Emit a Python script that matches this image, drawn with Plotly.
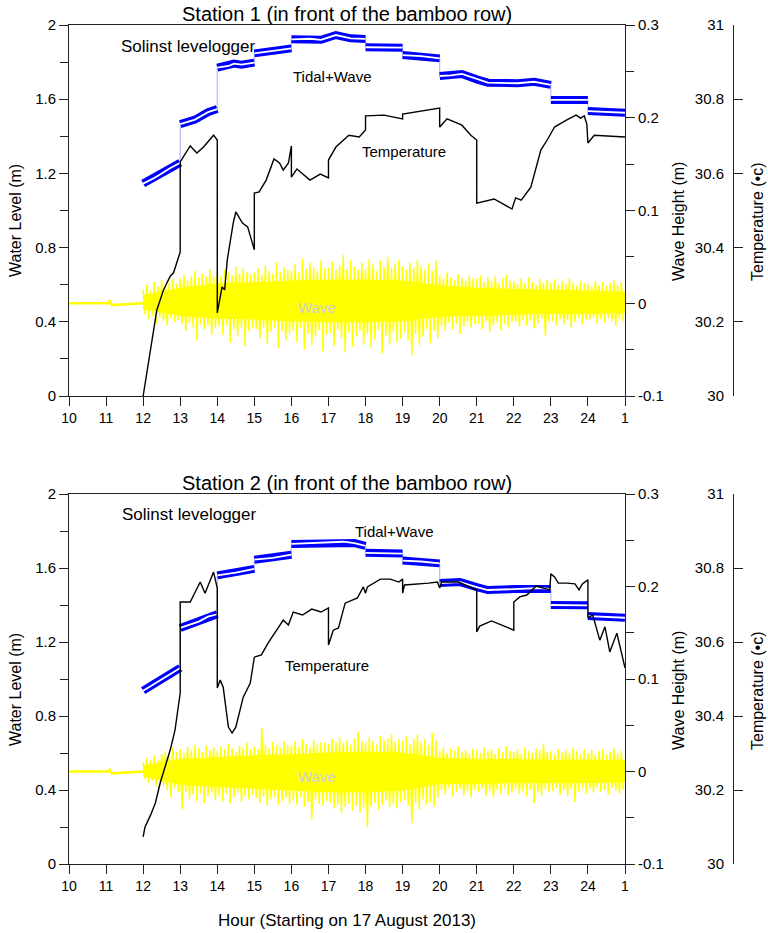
import plotly.graph_objects as go

# ---------------- DATA ----------------
HOUR_TICKS = list(range(10, 26))
HOUR_LABELS = [str(h) for h in range(10, 25)] + ["1"]
LEVEL_TICKS = [0, 0.4, 0.8, 1.2, 1.6, 2]
LEVEL_LABELS = ["0", "0.4", "0.8", "1.2", "1.6", "2"]
WAVE_TICKS = [-0.1, 0, 0.1, 0.2, 0.3]
WAVE_LABELS = ["-0.1", "0", "0.1", "0.2", "0.3"]
TEMP_TICKS = [30, 30.2, 30.4, 30.6, 30.8, 31]
TEMP_LABELS = ["30", "30.2", "30.4", "30.6", "30.8", "31"]

# Tidal+Wave (water level, m) - segments of the logger record
p1_tide_hours = [[12, 12.3, 12.5, 12.7, 13], [13, 13.4, 13.75, 14], [14, 14.3, 14.45, 14.65, 15],
                 [15, 15.5, 16], [16, 16.5, 16.8, 17.2, 17.6, 18], [18, 18.5, 19], [19, 19.5, 20],
                 [20, 20.3, 20.6, 21, 21.3, 22.1, 22.55, 23], [23, 23.5, 24], [24, 24.5, 25]]
p1_tide_level = [[1.145, 1.175, 1.20, 1.225, 1.257], [1.466, 1.49, 1.53, 1.547], [1.770, 1.779, 1.792, 1.786, 1.797],
                 [1.847, 1.86, 1.874], [1.923, 1.926, 1.92, 1.946, 1.928, 1.925], [1.88, 1.878, 1.878], [1.838, 1.832, 1.82],
                 [1.725, 1.728, 1.736, 1.707, 1.689, 1.686, 1.694, 1.677], [1.596, 1.597, 1.596], [1.536, 1.532, 1.527]]

p2_tide_hours = [[12, 12.5, 13], [13, 13.5, 13.75, 14], [14, 14.5, 15], [15, 15.5, 16],
                 [16, 16.5, 17, 17.4, 17.7, 18], [18, 19], [19, 19.5, 20],
                 [20, 20.55, 21, 21.3, 22, 22.7, 23], [23, 24], [24, 25]]
p2_tide_level = [[0.937, 1.0, 1.06], [1.276, 1.31, 1.337, 1.350], [1.56, 1.575, 1.595], [1.645, 1.655, 1.672],
                 [1.73, 1.733, 1.738, 1.742, 1.735, 1.72], [1.682, 1.678], [1.64, 1.635, 1.625],
                 [1.519, 1.524, 1.497, 1.481, 1.486, 1.492, 1.486], [1.40, 1.398], [1.34, 1.331]]

# Temperature (deg C)
p1_temp_hours = [12.0, 12.37, 12.55, 12.73, 12.82, 13.0, 13.0, 13.27, 13.45, 13.63, 13.9, 14.0, 14.0, 14.13, 14.2,
                 14.27, 14.43, 14.5, 14.68, 14.82, 15.0, 15.0, 15.13, 15.32, 15.53, 15.68, 15.78, 15.92, 16.0,
                 16.0, 16.15, 16.5, 16.78, 17.0, 17.0, 17.2, 17.55, 17.83, 18.0, 18.0, 18.5, 19.0, 19.0, 20.0,
                 20.0, 20.2, 20.6, 20.84, 21.0, 21.0, 21.47, 21.95, 22.05, 22.2, 22.46, 22.73, 22.9, 23.1,
                 23.43, 23.68, 23.8, 23.9, 23.97, 24.0, 24.17, 24.62, 25.0]
p1_temp_vals = [30.000, 30.232, 30.286, 30.323, 30.332, 30.388, 30.631, 30.674, 30.655, 30.671, 30.703, 30.690,
                30.224, 30.294, 30.286, 30.367, 30.466, 30.496, 30.466, 30.456, 30.394, 30.547, 30.550, 30.582,
                30.639, 30.628, 30.609, 30.628, 30.674, 30.590, 30.612, 30.582, 30.598, 30.588, 30.636, 30.671,
                30.703, 30.698, 30.717, 30.755, 30.757, 30.747, 30.760, 30.776, 30.725, 30.747, 30.730, 30.703,
                30.690, 30.520, 30.531, 30.504, 30.534, 30.528, 30.563, 30.663, 30.690, 30.725, 30.744, 30.757,
                30.749, 30.755, 30.733, 30.682, 30.703, 30.701, 30.698]

p2_temp_hours = [12.0, 12.05, 12.2, 12.33, 12.46, 12.6, 12.73, 12.86, 13.0, 13.0, 13.27, 13.54, 13.67, 13.9, 14.0,
                 14.0, 14.08, 14.16, 14.3, 14.4, 14.5, 14.7, 14.89, 15.0, 15.19, 15.37, 15.6, 15.78, 15.92, 16.05,
                 16.3, 16.55, 16.8, 17.0, 17.0, 17.13, 17.27, 17.45, 17.78, 17.94, 18.0, 18.05, 18.4, 18.67, 18.9,
                 19.0, 19.0, 19.05, 19.7, 19.94, 20.0, 20.05, 20.5, 21.0, 21.0, 21.08, 21.4, 22.0, 22.0, 22.16,
                 22.35, 22.6, 22.97, 23.0, 23.1, 23.2, 23.43, 23.65, 23.76, 23.85, 24.0, 24.0, 24.13, 24.2, 24.32,
                 24.46, 24.59, 24.78, 24.92, 25.0]
p2_temp_vals = [30.073, 30.100, 30.132, 30.165, 30.219, 30.262, 30.308, 30.362, 30.462, 30.708, 30.708, 30.762,
                30.732, 30.789, 30.746, 30.476, 30.497, 30.478, 30.370, 30.354, 30.370, 30.451, 30.489, 30.559,
                30.565, 30.597, 30.632, 30.659, 30.646, 30.681, 30.673, 30.689, 30.681, 30.692, 30.592, 30.632,
                30.638, 30.705, 30.719, 30.749, 30.732, 30.749, 30.770, 30.770, 30.762, 30.770, 30.732, 30.754,
                30.759, 30.762, 30.746, 30.762, 30.762, 30.741, 30.627, 30.643, 30.657, 30.632, 30.708, 30.722,
                30.727, 30.751, 30.741, 30.784, 30.776, 30.759, 30.759, 30.757, 30.741, 30.757, 30.768, 30.665,
                30.673, 30.646, 30.605, 30.641, 30.573, 30.624, 30.565, 30.530]

# Wave height before deployment of the wave record (calm, m)
calm_hours = [10.0, 11.05, 11.1, 11.15, 12.0]
p1_calm = [0, 0, 0.003, -0.002, 0]
p2_calm = [0, 0, 0.002, -0.002, 0]

# Dense core of the wave record (m), hourly 12..25
core_hours = list(range(12, 26))
p1_core_top = [0.008, 0.016, 0.021, 0.022, 0.024, 0.025, 0.025, 0.024, 0.019, 0.016, 0.015, 0.014, 0.013, 0.012]
p1_core_bot = [0.006, 0.013, 0.016, 0.017, 0.019, 0.020, 0.020, 0.019, 0.014, 0.013, 0.012, 0.011, 0.011, 0.010]
p2_core_top = [0.006, 0.013, 0.015, 0.017, 0.018, 0.020, 0.021, 0.020, 0.014, 0.013, 0.013, 0.012, 0.012, 0.012]
p2_core_bot = [0.005, 0.014, 0.016, 0.018, 0.020, 0.022, 0.022, 0.020, 0.013, 0.013, 0.012, 0.012, 0.012, 0.011]

# Wave record crests / troughs (mm), every 0.1 h from 12:00 to 24:54
WAVE_START, WAVE_STEP = 12.0, 0.1
p1_crest = [15, 20, 14, 23, 18, 25, 19, 22, 26, 21,
            27, 31, 25, 29, 35, 28, 32, 29, 37, 30,
            31, 29, 36, 33, 30, 40, 32, 38, 34, 31,
            33, 38, 31, 41, 35, 32, 44, 34, 39, 36,
            35, 42, 33, 48, 37, 44, 39, 35, 46, 38,
            38, 45, 36, 41, 52, 37, 47, 40, 36, 44,
            37, 48, 42, 35, 46, 39, 50, 38, 43, 47,
            40, 36, 44, 38, 47, 41, 36, 43, 35, 46,
            30, 26, 33, 28, 25, 31, 27, 24, 30, 26,
            27, 30, 23, 28, 24, 29, 22, 27, 31, 24,
            24, 21, 27, 22, 28, 23, 20, 26, 22, 25,
            22, 26, 20, 24, 21, 27, 22, 19, 24, 21,
            21, 18, 24, 20, 23, 19, 22, 25, 20, 23]
p1_trough = [12, 17, 14, 22, 15, 19, 24, 16, 20, 18,
             22, 30, 21, 26, 40, 23, 28, 24, 34, 26,
             25, 34, 24, 42, 28, 36, 26, 46, 30, 27,
             28, 38, 26, 44, 31, 27, 48, 30, 40, 33,
             30, 42, 27, 50, 33, 45, 36, 29, 52, 34,
             32, 46, 29, 38, 53, 31, 47, 36, 30, 44,
             33, 48, 39, 29, 54, 35, 45, 31, 42, 38,
             31, 40, 56, 33, 45, 36, 28, 43, 30, 38,
             24, 30, 21, 28, 22, 33, 25, 20, 27, 23,
             22, 28, 20, 31, 24, 21, 29, 22, 26, 20,
             20, 25, 18, 24, 19, 27, 22, 17, 35, 20,
             19, 24, 17, 23, 18, 26, 20, 16, 23, 18,
             18, 15, 22, 17, 21, 16, 19, 24, 17, 20]
p2_crest = [10, 14, 12, 17, 13, 19, 22, 18, 26, 21,
            24, 20, 27, 22, 29, 25, 21, 28, 23, 26,
            22, 27, 24, 30, 25, 21, 28, 26, 31, 24,
            27, 24, 47, 29, 25, 32, 28, 26, 33, 29,
            28, 33, 27, 35, 30, 26, 34, 29, 32, 31,
            30, 35, 32, 37, 31, 34, 29, 36, 43, 33,
            31, 37, 33, 29, 38, 34, 36, 40, 32, 35,
            33, 38, 30, 36, 40, 32, 35, 29, 42, 34,
            22, 26, 20, 25, 23, 27, 21, 24, 19, 25,
            23, 20, 26, 22, 24, 19, 25, 21, 27, 22,
            21, 24, 19, 26, 22, 20, 25, 23, 30, 21,
            22, 19, 24, 21, 23, 20, 26, 22, 19, 24,
            20, 23, 18, 22, 24, 19, 21, 25, 20, 22]
p2_trough = [8, 12, 10, 16, 11, 15, 20, 28, 18, 22,
             41, 22, 30, 25, 32, 24, 34, 27, 23, 31,
             26, 32, 24, 34, 28, 23, 33, 27, 30, 25,
             29, 34, 27, 37, 30, 28, 36, 32, 29, 35,
             31, 36, 28, 38, 33, 52, 30, 35, 37, 32,
             34, 40, 36, 45, 38, 35, 42, 37, 44, 39,
             60, 38, 34, 41, 36, 32, 39, 35, 40, 33,
             31, 37, 56, 34, 41, 30, 36, 33, 38, 29,
             20, 25, 18, 27, 22, 19, 26, 21, 28, 20,
             22, 19, 26, 21, 28, 20, 24, 18, 25, 23,
             19, 24, 21, 27, 20, 34, 22, 26, 19, 23,
             21, 18, 25, 20, 27, 19, 33, 22, 18, 24,
             19, 23, 17, 22, 20, 25, 18, 21, 24, 20]

TITLES = ["Station 1 (in front of the bamboo row)", "Station 2 (in front of the bamboo row)"]

# ---------------- FIGURE ----------------
W, H = 768, 933
FONT = "Liberation Sans, Arial, sans-serif"


def px(x, y):
    return x / W, 1 - y / H


def join_segments(seg_x, seg_y):
    xs, ys = [], []
    for sx, sy in zip(seg_x, seg_y):
        xs += list(sx) + [None]
        ys += list(sy) + [None]
    return xs, ys


def zigzag(crest, trough):
    xs, ys = [], []
    for i, (c, t) in enumerate(zip(crest, trough)):
        t0 = WAVE_START + i * WAVE_STEP
        xs += [t0, t0 + WAVE_STEP / 2]
        ys += [c / 1000.0, -t / 1000.0]
    return xs, ys


fig = go.Figure()

X_DOM = [69 / W, 625 / W]
TEMP_POS = 733 / W
panels = [
    dict(top=25, bot=396, xa="x", ya=("y", "y2", "y3"), tide=(p1_tide_hours, p1_tide_level),
         temp=(p1_temp_hours, p1_temp_vals), calm=p1_calm, wave=(p1_crest, p1_trough),
         core=(p1_core_top, p1_core_bot)),
    dict(top=494, bot=864, xa="x2", ya=("y4", "y5", "y6"), tide=(p2_tide_hours, p2_tide_level),
         temp=(p2_temp_hours, p2_temp_vals), calm=p2_calm, wave=(p2_crest, p2_trough),
         core=(p2_core_top, p2_core_bot)),
]

axis_font = dict(family=FONT, size=15, color="black")
LINE = "#222222"
YELLOW = "#ffff00"

for k, p in enumerate(panels):
    xa = p["xa"]
    ylev, ywav, ytmp = p["ya"]
    # tide band
    tx, ty = join_segments(*p["tide"])
    cx = [v for v in tx if v is not None]
    cy = [v for v in ty if v is not None]
    fig.add_trace(go.Scatter(x=cx, y=cy, mode="lines", line=dict(color="#b4bcff", width=1.2),
                             xaxis=xa, yaxis=ylev, hoverinfo="skip"))
    fig.add_trace(go.Scatter(x=tx, y=ty, mode="lines", line=dict(color="#0000ff", width=8),
                             xaxis=xa, yaxis=ylev, hoverinfo="skip"))
    fig.add_trace(go.Scatter(x=tx, y=ty, mode="lines", line=dict(color="white", width=1.8),
                             xaxis=xa, yaxis=ylev, hoverinfo="skip"))
    # wave
    fig.add_trace(go.Scatter(x=calm_hours, y=p["calm"], mode="lines", line=dict(color=YELLOW, width=2.5),
                             xaxis=xa, yaxis=ywav, hoverinfo="skip"))
    ctop, cbot = p["core"]
    fig.add_trace(go.Scatter(x=core_hours + core_hours[::-1], y=ctop + [-v for v in cbot[::-1]],
                             mode="lines", fill="toself", fillcolor=YELLOW, line=dict(color=YELLOW, width=1),
                             xaxis=xa, yaxis=ywav, hoverinfo="skip"))
    wx, wy = zigzag(*p["wave"])
    fig.add_trace(go.Scatter(x=wx, y=wy, mode="lines",
                             line=dict(color=YELLOW, width=1.5, simplify=False),
                             xaxis=xa, yaxis=ywav, hoverinfo="skip"))
    # temperature
    fig.add_trace(go.Scatter(x=p["temp"][0], y=p["temp"][1], mode="lines", line=dict(color="black", width=1.4),
                             xaxis=xa, yaxis=ytmp, hoverinfo="skip"))

    ydom = [1 - p["bot"] / H, 1 - p["top"] / H]
    xkey = "xaxis" if xa == "x" else "xaxis2"
    fig.layout[xkey] = dict(domain=X_DOM, anchor=ylev, range=[10, 25], tickmode="array",
                            tickvals=HOUR_TICKS, ticktext=HOUR_LABELS, ticks="outside", ticklen=9,
                            tickcolor=LINE, showline=True, linecolor=LINE, linewidth=1, mirror=True,
                            showgrid=False, zeroline=False, automargin=False,
                            tickfont=dict(family=FONT, size=14, color="black"))
    ylk = "yaxis" + ("" if ylev == "y" else ylev[1:])
    ywk = "yaxis" + ywav[1:]
    ytk = "yaxis" + ytmp[1:]
    fig.layout[ylk] = dict(domain=ydom, anchor=xa, range=[0, 2], tickmode="array", tickvals=LEVEL_TICKS,
                           ticktext=LEVEL_LABELS, ticks="outside", ticklen=9, tickcolor=LINE,
                           showline=True, linecolor=LINE, showgrid=False, zeroline=False, tickfont=axis_font,
                           automargin=False,
                           minor=dict(tickmode="array", tickvals=[0.2, 0.6, 1.0, 1.4, 1.8], ticks="outside",
                                      ticklen=8, tickcolor=LINE))
    fig.layout[ywk] = dict(overlaying=ylev, anchor=xa, side="right", range=[-0.1, 0.3], tickmode="array",
                           tickvals=WAVE_TICKS, ticktext=WAVE_LABELS, ticks="outside", ticklen=9,
                           tickcolor=LINE, showline=True, linecolor=LINE, showgrid=False, zeroline=False,
                           tickfont=axis_font, automargin=False,
                           minor=dict(tickmode="array", tickvals=[-0.05, 0.05, 0.15, 0.25], ticks="outside",
                                      ticklen=8, tickcolor=LINE))
    fig.layout[ytk] = dict(overlaying=ylev, anchor="free", position=TEMP_POS, side="left", range=[30, 31],
                           tickmode="array", tickvals=TEMP_TICKS, ticktext=TEMP_LABELS, ticks="inside",
                           ticklen=9, tickcolor=LINE, showline=True, linecolor=LINE, showgrid=False,
                           zeroline=False, tickfont=axis_font, ticklabelstandoff=6, automargin=False)

annotations = []


def ann(text, x, y, size, xanchor="center", angle=0, color="black"):
    ax, ay = px(x, y)
    annotations.append(dict(text=text, x=ax, y=ay, xref="paper", yref="paper", showarrow=False,
                            xanchor=xanchor, yanchor="middle", textangle=angle,
                            font=dict(family=FONT, size=size, color=color)))


for k, off in enumerate([0, 469]):
    ann(TITLES[k], 347, 14 + off, 20)
    ann("Solinst levelogger", 119 + k, 46 + off - (1 if k else 0), 17, xanchor="left")
    ann("Water Level (m)", 15, 222 + off - 1, 16, angle=-90)
    ann("Wave Height (m)", 678, 224 + off - 2, 16, angle=-90)
    ann("Temperature (\u2022c)", 757, 225 + off - 3, 16, angle=-90)
    ann("Wave", 317, 307 + off, 15, color="#d0d0d0")

ann("Tidal+Wave", 291, 76, 15, xanchor="left")
ann("Temperature", 360, 151, 15, xanchor="left")
ann("Tidal+Wave", 353, 531, 15, xanchor="left")
ann("Temperature", 283, 665, 15, xanchor="left")
ann("Hour (Starting on 17 August 2013)", 347, 920, 17)

fig.update_layout(width=W, height=H, margin=dict(l=0, r=0, t=0, b=0, pad=0, autoexpand=False),
                  showlegend=False, plot_bgcolor="white", paper_bgcolor="white", annotations=annotations,
                  font=dict(family=FONT, color="black"))

fig.write_html("out.html")
